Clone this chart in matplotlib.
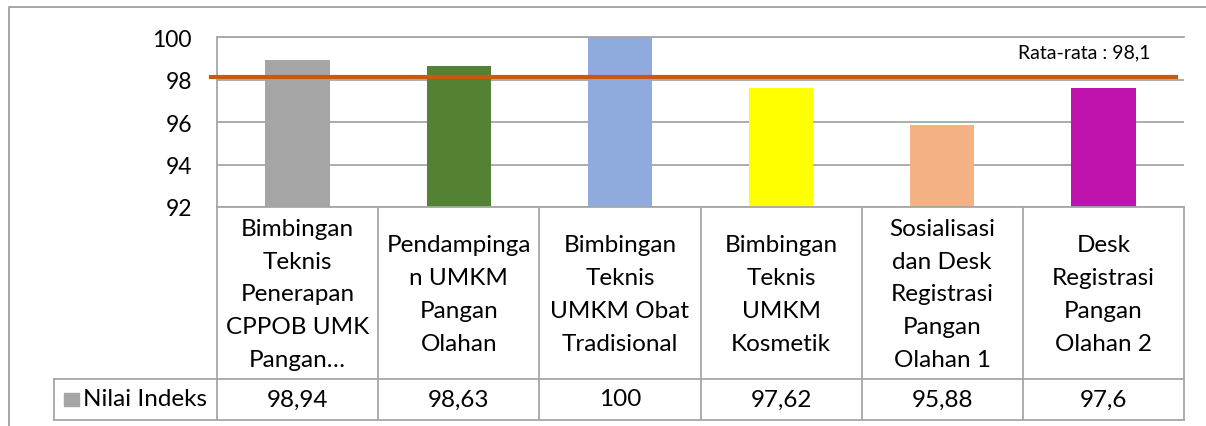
import matplotlib.pyplot as plt
from matplotlib.patches import Rectangle
from matplotlib.lines import Line2D

categories = [
    "Bimbingan\nTeknis\nPenerapan\nCPPOB UMK\nPangan\u2026",
    "Pendampinga\nn UMKM\nPangan\nOlahan",
    "Bimbingan\nTeknis\nUMKM Obat\nTradisional",
    "Bimbingan\nTeknis\nUMKM\nKosmetik",
    "Sosialisasi\ndan Desk\nRegistrasi\nPangan\nOlahan 1",
    "Desk\nRegistrasi\nPangan\nOlahan 2",
]
values = [98.94, 98.63, 100, 97.62, 95.88, 97.6]
bar_colors = ["#a5a5a5", "#548235", "#8faadc", "#ffff00", "#f4b183", "#c012ad"]
series_name = "Nilai Indeks"
average = 98.1
yticks = [92, 94, 96, 98, 100]

plt.rcParams['font.family'] = ['Lato', 'DejaVu Sans']
W, H = 1206, 427
fig = plt.figure(figsize=(W / 100, H / 100), dpi=100)

# plot area in pixels: x 217..1184, y 38..208
px0, px1, py0, py1 = 217, 1184, 38, 208
ax = fig.add_axes([px0 / W, 1 - py1 / H, (px1 - px0) / W, (py1 - py0) / H])

def fx(px):
    return (px - px0) / (px1 - px0)

def fy(py):
    return (py1 - py) / (py1 - py0)

line_col = '#a6a6a6'
fs = 17.5
n = len(values)
x = list(range(n))
ax.bar(x, [v - 92 for v in values], bottom=92, width=0.4, color=bar_colors, zorder=2)
ax.set_xlim(-0.5, n - 0.5)
ax.set_ylim(92, 100)
ax.set_yticks(yticks)
ax.set_yticklabels([str(t) for t in yticks], fontsize=16.5)
ax.tick_params(axis='y', length=0, pad=18)
ax.set_xticks([])
ax.grid(axis='y', color=line_col, linewidth=1.3, zorder=0)
for s in ['top', 'left', 'bottom']:
    ax.spines[s].set_color(line_col)
    ax.spines[s].set_linewidth(1.3)
ax.spines['right'].set_visible(False)

ax.axhline(average, xmin=-0.006, xmax=0.992, color='#c55a11', linewidth=3, clip_on=False, zorder=3)
ax.text(fx(1151), fy(53), "Rata-rata : " + f"{average:g}".replace('.', ','),
        transform=ax.transAxes, ha='right', va='center', fontsize=14)

# data table under the axis
xt = ax.get_xaxis_transform()
yb, ym = fy(421), fy(380)
for i in range(n + 1):
    ax.plot([i - 0.5, i - 0.5], [0, yb], transform=xt, color=line_col, lw=1.3, clip_on=False)
for yy in (ym, yb):
    ax.plot([fx(54), 1], [yy, yy], transform=ax.transAxes, color=line_col, lw=1.3, clip_on=False)
ax.plot([fx(54), fx(54)], [ym, yb], transform=ax.transAxes, color=line_col, lw=1.3, clip_on=False)

for i, (lab, v) in enumerate(zip(categories, values)):
    ax.text(i, fy(295), lab, transform=xt, ha='center', va='center', fontsize=fs,
            linespacing=1.7, multialignment='center')
    ax.text(i, fy(400), f"{v:g}".replace('.', ','), transform=xt, ha='center', va='center',
            fontsize=fs)

ax.add_patch(Rectangle((fx(64), fy(407)), fx(79) - fx(64), fy(394) - fy(407),
                       transform=ax.transAxes, color=bar_colors[0], clip_on=False))
ax.text(fx(83), fy(400), series_name, transform=ax.transAxes, ha='left', va='center',
        fontsize=fs)

# outer chart border (left and top only visible)
fig.add_artist(Line2D([9 / W, 9 / W, 1], [0, 1 - 8 / H, 1 - 8 / H],
                      transform=fig.transFigure, color='#a0a0a0', lw=1.3))

fig.savefig('out.png', dpi=100)
